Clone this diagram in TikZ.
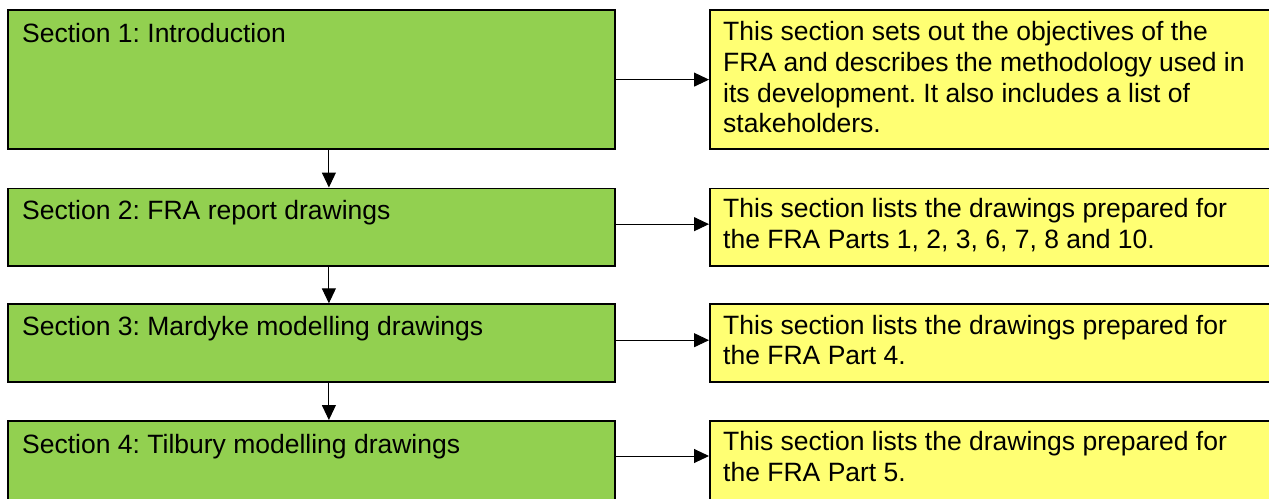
\documentclass[tikz,border=0pt]{standalone}
\usepackage{fontspec}
\setmainfont{Liberation Sans}
\usetikzlibrary{arrows.meta}
\definecolor{boxgreen}{HTML}{92D050}
\definecolor{boxyellow}{HTML}{FFFF73}
\frenchspacing
\begin{document}
\begin{tikzpicture}[x=1pt,y=-1pt,
  gbox/.style={draw=black,line width=1.8pt,fill=boxgreen,rectangle,inner sep=0pt,anchor=north west,minimum width=607pt},
  ybox/.style={draw=black,line width=1.8pt,fill=boxyellow,rectangle,inner sep=0pt,anchor=north west,minimum width=700pt},
  txt/.style={inner sep=0pt,anchor=north west,align=left,font=\fontsize{26.5}{30.7}\selectfont\frenchspacing,execute at begin node=\strut},
  arr/.style={line width=1pt,-{Triangle[length=15pt,width=14pt]}}]
\useasboundingbox (0,0) rectangle (1269,498);
\clip (0,0) rectangle (1269,498);
% green boxes
\node[gbox,minimum height=139pt] (G1) at (7,9.2) {};
\node[gbox,minimum height=77.5pt] (G2) at (7,187.5) {};
\node[gbox,minimum height=78pt] (G3) at (7,303.3) {};
\node[gbox,minimum height=140pt] (G4) at (7,420) {};
% yellow boxes
\node[ybox,minimum height=139pt] (Y1) at (709,9.2) {};
\node[ybox,minimum height=77.5pt] (Y2) at (709,187.5) {};
\node[ybox,minimum height=78pt] (Y3) at (709,303.3) {};
\node[ybox,minimum height=140pt] (Y4) at (709,420) {};
% texts
\node[txt] (tG1) at ([xshift=15pt,yshift=-12pt]G1.north west) {Section 1: Introduction};
\node[txt] (tG2) at ([xshift=15pt,yshift=-10.5pt]G2.north west) {Section 2: FRA report drawings};
\node[txt] (tG3) at ([xshift=15pt,yshift=-11pt]G3.north west) {Section 3: Mardyke modelling drawings};
\node[txt] (tG4) at ([xshift=15pt,yshift=-11.5pt]G4.north west) {Section 4: Tilbury modelling drawings};
\node[txt] (tY1) at ([xshift=14pt,yshift=-12pt]Y1.north west) {This section sets out the objectives of the\\FRA and describes the methodology used in\\its development. It also includes a list of\\stakeholders.};
\node[txt] (tY2) at ([xshift=14pt,yshift=-11pt]Y2.north west) {This section lists the drawings prepared for\\the FRA Parts 1, 2, 3, 6, 7, 8 and 10.};
\node[txt] (tY3) at ([xshift=14pt,yshift=-11.5pt]Y3.north west) {This section lists the drawings prepared for\\the FRA Part 4.};
\node[txt] (tY4) at ([xshift=14pt,yshift=-11.5pt]Y4.north west) {This section lists the drawings prepared for\\the FRA Part 5.};
% vertical arrows
\draw[arr] ([xshift=17.5pt]G1.south) -- ([xshift=17.5pt]G2.north);
\draw[arr] ([xshift=17.5pt]G2.south) -- ([xshift=17.5pt]G3.north);
\draw[arr] ([xshift=17.5pt]G3.south) -- ([xshift=17.5pt]G4.north);
% horizontal arrows
\draw[arr] (G1.east) -- (G1.east -| Y1.west);
\draw[arr] ([yshift=3pt]G2.east) -- ([yshift=3pt]G2.east -| Y2.west);
\draw[arr] ([yshift=3pt]G3.east) -- ([yshift=3pt]G3.east -| Y3.west);
\draw[arr] (G4.west |- 0,456) ++(607,0) coordinate (h4) -- (h4 -| Y4.west);
\end{tikzpicture}
\end{document}
